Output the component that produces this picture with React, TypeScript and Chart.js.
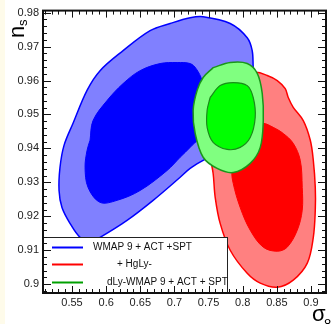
import React, { useEffect, useRef } from "react";
import { Chart, registerables } from "chart.js";

Chart.register(...registerables);

type Pt = [number, number];

// Axis ranges and labelled ticks
const sigma8Range: [number, number] = [0.5075, 0.922];
const nsRange: [number, number] = [0.8974, 0.9806];
const sigma8Ticks = [0.55, 0.6, 0.65, 0.7, 0.75, 0.8, 0.85, 0.9];
const nsTicks = [0.9, 0.91, 0.92, 0.93, 0.94, 0.95, 0.96, 0.97, 0.98];

// Legend entries
const legendLabels = ["WMAP 9 + ACT +SPT", "+ HgLy-", "dLy-WMAP 9 + ACT + SPT"];

// 68% / 95% contours in the (sigma_8, n_s) plane
const wmapOuter: Pt[] = [
  [0.5764, 0.9124], [0.5617, 0.9138], [0.5471, 0.9179], [0.5353, 0.9226],
  [0.531, 0.9276], [0.5324, 0.9344], [0.5383, 0.9409], [0.5515, 0.9474],
  [0.572, 0.9571], [0.5911, 0.9629], [0.6248, 0.9688], [0.6644, 0.9747],
  [0.6937, 0.9768], [0.723, 0.9785], [0.7421, 0.9788], [0.7817, 0.9768],
  [0.8066, 0.9726], [0.8139, 0.9688], [0.8154, 0.9638], [0.8183, 0.9556],
  [0.8037, 0.9453], [0.767, 0.9394], [0.7421, 0.9365], [0.723, 0.9341],
  [0.7084, 0.9315], [0.6688, 0.9247], [0.6306, 0.9188], [0.5911, 0.9138],
];
const wmapInner: Pt[] = [
  [0.5764, 0.9424], [0.5808, 0.9482], [0.6013, 0.9541], [0.6248, 0.9591],
  [0.6497, 0.9629], [0.679, 0.965], [0.704, 0.9653], [0.723, 0.965],
  [0.7318, 0.9635], [0.7406, 0.96], [0.7494, 0.9526], [0.745, 0.9453],
  [0.723, 0.9403], [0.7084, 0.9374], [0.6893, 0.9335], [0.6497, 0.9276],
  [0.616, 0.9247], [0.5911, 0.9241], [0.5735, 0.9285], [0.5691, 0.9344],
  [0.572, 0.9394],
];
const hubbleOuter: Pt[] = [
  [0.789, 0.9606], [0.8183, 0.9624], [0.8359, 0.9615], [0.8506, 0.96],
  [0.8623, 0.9576], [0.8667, 0.955], [0.874, 0.9521], [0.8887, 0.9482],
  [0.899, 0.9424], [0.9034, 0.9365], [0.9063, 0.9285], [0.9063, 0.9218],
  [0.9034, 0.9138], [0.8946, 0.9062], [0.874, 0.9012], [0.8506, 0.8991],
  [0.8257, 0.9003], [0.8066, 0.9032], [0.7817, 0.91], [0.767, 0.9179],
  [0.7597, 0.9256], [0.7567, 0.9326], [0.7494, 0.9424], [0.7597, 0.9541],
];
const hubbleInner: Pt[] = [
  [0.8183, 0.9468], [0.8301, 0.9474], [0.8447, 0.9462], [0.8594, 0.9444],
  [0.874, 0.9415], [0.8843, 0.9365], [0.8872, 0.9285], [0.8872, 0.9218],
  [0.8799, 0.9159], [0.8652, 0.9109], [0.8506, 0.9097], [0.8301, 0.9109],
  [0.811, 0.9159], [0.7963, 0.9226], [0.7861, 0.9297], [0.7846, 0.9335],
  [0.7963, 0.9394],
];
const lyaOuter: Pt[] = [
  [0.7567, 0.9638], [0.7817, 0.9653], [0.8066, 0.965], [0.8213, 0.9621],
  [0.8286, 0.9562], [0.8301, 0.9482], [0.8257, 0.9403], [0.811, 0.9356],
  [0.7861, 0.9329], [0.7626, 0.9341], [0.7421, 0.9374], [0.7304, 0.9444],
  [0.7274, 0.9512], [0.7333, 0.9571], [0.7421, 0.9609],
];
const lyaInner: Pt[] = [
  [0.7523, 0.955], [0.767, 0.9585], [0.7861, 0.9594], [0.8066, 0.9585],
  [0.8154, 0.955], [0.8183, 0.9491], [0.811, 0.9432], [0.7963, 0.9403],
  [0.7773, 0.9397], [0.7567, 0.9418], [0.7479, 0.9462], [0.7479, 0.9512],
];

const FONT = "'Liberation Sans', Arial, sans-serif";
const legendColors = ["#0000ff", "#ff0000", "#00a000"];

function contour(pts: Pt[], fill: string, line: string, width: number, order: number) {
  return {
    data: [...pts, pts[0]].map(([x, y]) => ({ x, y })),
    showLine: true,
    fill: "shape",
    backgroundColor: fill,
    borderColor: line,
    borderWidth: width,
    pointRadius: 0,
    tension: 0.35,
    order,
  };
}

const fmt = (v: number) => Number(v).toFixed(2).replace(/0$/, "");

const backgroundPlugin = {
  id: "pageBackground",
  beforeDraw(chart: any) {
    const { ctx, width, height } = chart;
    ctx.save();
    ctx.fillStyle = "#ffffff";
    ctx.fillRect(0, 0, width, height);
    ctx.fillStyle = "#fefbea";
    ctx.fillRect(0, 0, 5, height);
    ctx.restore();
  },
};

const framePlugin = {
  id: "frameAndLegend",
  afterDatasetsDraw(chart: any) {
    const { ctx, chartArea: a, scales } = chart;
    const xs = scales.x;
    const ys = scales.y;
    ctx.save();

    // legend box
    const lx = a.left, ly = 237, lr = 227, lb = a.bottom;
    ctx.fillStyle = "#ffffff";
    ctx.fillRect(lx, ly, lr - lx, lb - ly);
    ctx.strokeStyle = "#222";
    ctx.lineWidth = 1;
    ctx.strokeRect(lx + 0.5, ly + 0.5, lr - lx, lb - ly);
    const rows = [247.5, 264.5, 282.5];
    const textX = [93, 117, 107];
    ctx.font = `10px ${FONT}`;
    ctx.textBaseline = "middle";
    ctx.textAlign = "left";
    rows.forEach((yy, i) => {
      ctx.strokeStyle = legendColors[i];
      ctx.lineWidth = 2;
      ctx.beginPath();
      ctx.moveTo(52, yy);
      ctx.lineTo(83, yy);
      ctx.stroke();
      ctx.fillStyle = "#111";
      ctx.fillText(legendLabels[i], textX[i], yy);
    });

    // tick marks on all four sides, pointing inward
    ctx.strokeStyle = "#111";
    ctx.lineWidth = 1;
    for (let i = 51; i <= 92; i++) {
      const px = Math.round(xs.getPixelForValue(i / 100)) + 0.5;
      const len = i % 5 === 0 ? 7 : 4;
      ctx.beginPath();
      ctx.moveTo(px, a.bottom);
      ctx.lineTo(px, a.bottom - len);
      ctx.moveTo(px, a.top);
      ctx.lineTo(px, a.top + len);
      ctx.stroke();
    }
    for (let i = 898; i <= 980; i += 2) {
      const py = Math.round(ys.getPixelForValue(i / 1000)) + 0.5;
      const len = i % 10 === 0 ? 8 : 4;
      ctx.beginPath();
      ctx.moveTo(a.left, py);
      ctx.lineTo(a.left + len, py);
      ctx.moveTo(a.right, py);
      ctx.lineTo(a.right - len, py);
      ctx.stroke();
    }

    // frame
    ctx.lineWidth = 2;
    ctx.strokeStyle = "#111";
    ctx.strokeRect(a.left, a.top, a.right - a.left, a.bottom - a.top);

    // axis titles
    ctx.fillStyle = "#000";
    ctx.textBaseline = "alphabetic";
    ctx.font = `22px ${FONT}`;
    ctx.fillText("\u03c3", 312, 321);
    ctx.font = `13px ${FONT}`;
    ctx.fillText("8", 324, 328);

    ctx.save();
    ctx.translate(24, 38);
    ctx.rotate(-Math.PI / 2);
    ctx.font = `22px ${FONT}`;
    ctx.fillText("n", 0, 0);
    ctx.font = `13px ${FONT}`;
    ctx.fillText("s", 12, 3);
    ctx.restore();

    ctx.restore();
  },
};

export default function App() {
  const ref = useRef<HTMLCanvasElement>(null);

  useEffect(() => {
    const canvas = ref.current;
    if (!canvas) return;
    const tickFont = { family: FONT, size: 11 };
    const chart = new Chart(canvas, {
      type: "scatter",
      data: {
        datasets: [
          contour(wmapOuter, "#8080ff", "#0000ff", 1.5, 5),
          contour(wmapInner, "#0000ff", "#0000ff", 1, 4),
          contour(hubbleOuter, "#ff8080", "#ff0000", 1.5, 3),
          contour(hubbleInner, "#ff0000", "#ff0000", 1, 2),
          contour(lyaOuter, "#80ff80", "#1a961a", 1.5, 1),
          contour(lyaInner, "#00ff00", "#1a8c1a", 1.2, 0),
        ] as any,
      },
      options: {
        responsive: false,
        animation: false,
        devicePixelRatio: 1,
        events: [],
        layout: { padding: { top: 10, right: 6, left: 0, bottom: 0 } },
        plugins: { legend: { display: false }, tooltip: { enabled: false } },
        scales: {
          x: {
            type: "linear",
            position: "bottom",
            min: sigma8Range[0],
            max: sigma8Range[1],
            afterBuildTicks: (s: any) => {
              s.ticks = sigma8Ticks.map((value) => ({ value }));
            },
            afterFit: (s: any) => {
              s.height = 31;
            },
            grid: { display: false, drawTicks: false },
            border: { display: false },
            ticks: {
              padding: 3,
              font: tickFont,
              color: "#222",
              maxRotation: 0,
              autoSkip: false,
              callback: (v: any) => fmt(v),
            },
          },
          y: {
            type: "linear",
            min: nsRange[0],
            max: nsRange[1],
            afterBuildTicks: (s: any) => {
              s.ticks = nsTicks.map((value) => ({ value }));
            },
            afterFit: (s: any) => {
              s.width = 43;
            },
            grid: { display: false, drawTicks: false },
            border: { display: false },
            ticks: {
              padding: 4,
              font: tickFont,
              color: "#222",
              autoSkip: false,
              callback: (v: any) => fmt(v),
            },
          },
        },
      } as any,
      plugins: [backgroundPlugin, framePlugin],
    });
    return () => chart.destroy();
  }, []);

  return (
    <div style={{ position: "fixed", left: 0, top: 0, width: 332, height: 324 }}>
      <canvas ref={ref} width={332} height={324} style={{ display: "block", width: 332, height: 324 }} />
    </div>
  );
}
